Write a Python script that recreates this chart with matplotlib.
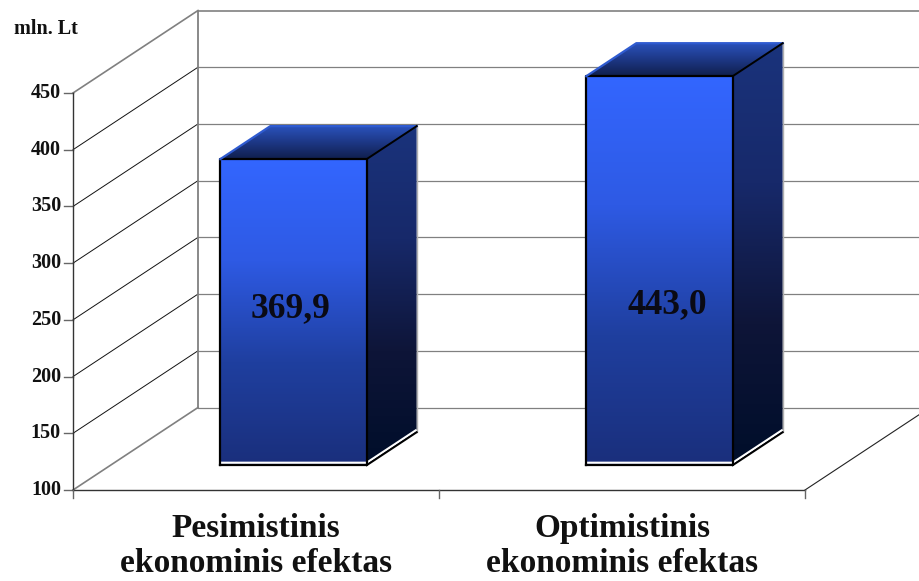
import numpy as np
import matplotlib
matplotlib.use("Agg")
import matplotlib.pyplot as plt
from matplotlib.colors import LinearSegmentedColormap
from matplotlib.patches import Polygon

categories = ["Pesimistinis\nekonominis efektas", "Optimistinis\nekonominis efektas"]
values = [369.9, 443.0]
value_labels = ["369,9", "443,0"]
y_ticks = [100, 150, 200, 250, 300, 350, 400, 450]

W, H = 919, 581
PX_PER_VALUE = 397 / 350
CAT_PX = 366
LEFT_PX, BASE_PX = 73, 490
DEPTH_X = 125 / CAT_PX          # wall depth in category units
DEPTH_V = 82.5 / PX_PER_VALUE   # wall depth in value units
BAR_W = 0.40
D_FRONT, D_BACK = 0.30, 0.70

plt.rcParams['font.family'] = ['Liberation Serif', 'DejaVu Serif']
plt.rcParams['font.weight'] = 'bold'

front_cmap = LinearSegmentedColormap.from_list(
    'front', ['#3366ff', '#2e5ae4', '#1f3f9f', '#1a2f7c'])
side_cmap = LinearSegmentedColormap.from_list(
    'side', ['#1a337c', '#17296a', '#0e1538', '#000e2a'])
top_cmap = LinearSegmentedColormap.from_list(
    'top', ['#2a52bb', '#1d3785', '#101f4d'])


def proj(x, v, d=0.0):
    return x + d * DEPTH_X, v + d * DEPTH_V


def gradient_face(ax, pts, cmap):
    pts = np.array(pts)
    grad = np.linspace(0, 1, 256).reshape(-1, 1)
    extent = [pts[:, 0].min(), pts[:, 0].max(), pts[:, 1].min(), pts[:, 1].max()]
    im = ax.imshow(grad, cmap=cmap, extent=extent, origin='upper',
                   aspect='auto', zorder=3, interpolation='bilinear')
    im.set_clip_path(Polygon(pts, closed=True, transform=ax.transData))


def draw_bar(ax, center, value):
    x0, x1 = center - BAR_W / 2, center + BAR_W / 2
    fbl = proj(x0, 100, D_FRONT)
    fbr = proj(x1, 100, D_FRONT)
    ftl = proj(x0, value, D_FRONT)
    ftr = proj(x1, value, D_FRONT)
    bbr = proj(x1, 100, D_BACK)
    btl = proj(x0, value, D_BACK)
    btr = proj(x1, value, D_BACK)

    gradient_face(ax, [fbl, fbr, ftr, ftl], front_cmap)
    gradient_face(ax, [fbr, bbr, btr, ftr], side_cmap)
    gradient_face(ax, [ftl, ftr, btr, btl], top_cmap)

    # highlight edges just inside the outline
    inset = 2.5 / PX_PER_VALUE
    ax.plot(*zip((fbl[0], fbl[1] + inset), (fbr[0], fbr[1] + inset), (bbr[0], bbr[1] + inset)),
            color='white', lw=1.6, zorder=4, solid_capstyle='butt')
    ax.plot(*zip(ftl, btl, btr), color='#2f5bd0', lw=1.6, zorder=6)
    ax.plot(*zip(proj(x1, 100, D_BACK), btr), color='#b0b0b0', lw=1.0, zorder=4)

    # black outline of the box
    ax.plot(*zip(fbl, ftl, ftr, fbr, fbl), color='black', lw=1.6, zorder=5)
    ax.plot(*zip(ftr, btr), color='black', lw=1.4, zorder=7)
    ax.plot(*zip(bbr, fbr), color='black', lw=1.4, zorder=5)


fig = plt.figure(figsize=(W / 100, H / 100), dpi=100)
ax = fig.add_axes([0, 0, 1, 1])
ax.axis('off')

# back wall gridlines and side wall lines
for v in y_ticks:
    top_or_floor = v in (100, 450)
    back_x = [proj(0, v, 1)[0], proj(2, v, 1)[0]]
    back_y = [proj(0, v, 1)[1]] * 2
    ax.plot(back_x, back_y, color='#808080', lw=1.2 if v == 450 else 0.9, zorder=1)
    side = zip(proj(0, v, 0), proj(0, v, 1))
    ax.plot(*side, color='#808080' if top_or_floor else '#111111',
            lw=1.2 if top_or_floor else 0.7, zorder=1)
    ax.plot([-9 / CAT_PX, 0], [v, v], color='#666666', lw=1.0, zorder=1)
    ax.text(-12 / CAT_PX, v, str(v), ha='right', va='center', fontsize=14.5, color='#111111')

ax.plot(*zip(proj(0, 100, 1), proj(0, 450, 1)), color='#808080', lw=1.3, zorder=1)
ax.plot([0, 0], [100, 450], color='#333333', lw=1.0, zorder=2)
ax.plot([0, 2], [100, 100], color='#333333', lw=1.0, zorder=2)
ax.plot(*zip(proj(2, 100, 0), proj(2, 100, 1)), color='#222222', lw=0.8, zorder=2)
for c in (0, 1, 2):
    ax.plot([c, c], [100, 100 - 8 / PX_PER_VALUE], color='#666666', lw=1.0, zorder=2)

for i, v in enumerate(values):
    draw_bar(ax, i + 0.5, v)

ax.set_xlim(-LEFT_PX / CAT_PX, (W - LEFT_PX) / CAT_PX)
ax.set_ylim(100 - (H - BASE_PX) / PX_PER_VALUE, 100 + BASE_PX / PX_PER_VALUE)

fig.text(14 / W, 1 - 29 / H, "mln. Lt", ha='left', va='center', fontsize=14.5, color='#111111')

label_px = [(291, 309), (667, 305)]
for (px, py), s in zip(label_px, value_labels):
    fig.text(px / W, 1 - py / H, s, ha='center', va='center', fontsize=25.5, color='#0a0a14')

cat_px = [256, 622]
for px, s in zip(cat_px, categories):
    fig.text(px / W, 1 - 546 / H, s, ha='center', va='center', fontsize=24,
             linespacing=1.2, color='#111111')

fig.savefig("out.png", dpi=100)
plt.close(fig)
